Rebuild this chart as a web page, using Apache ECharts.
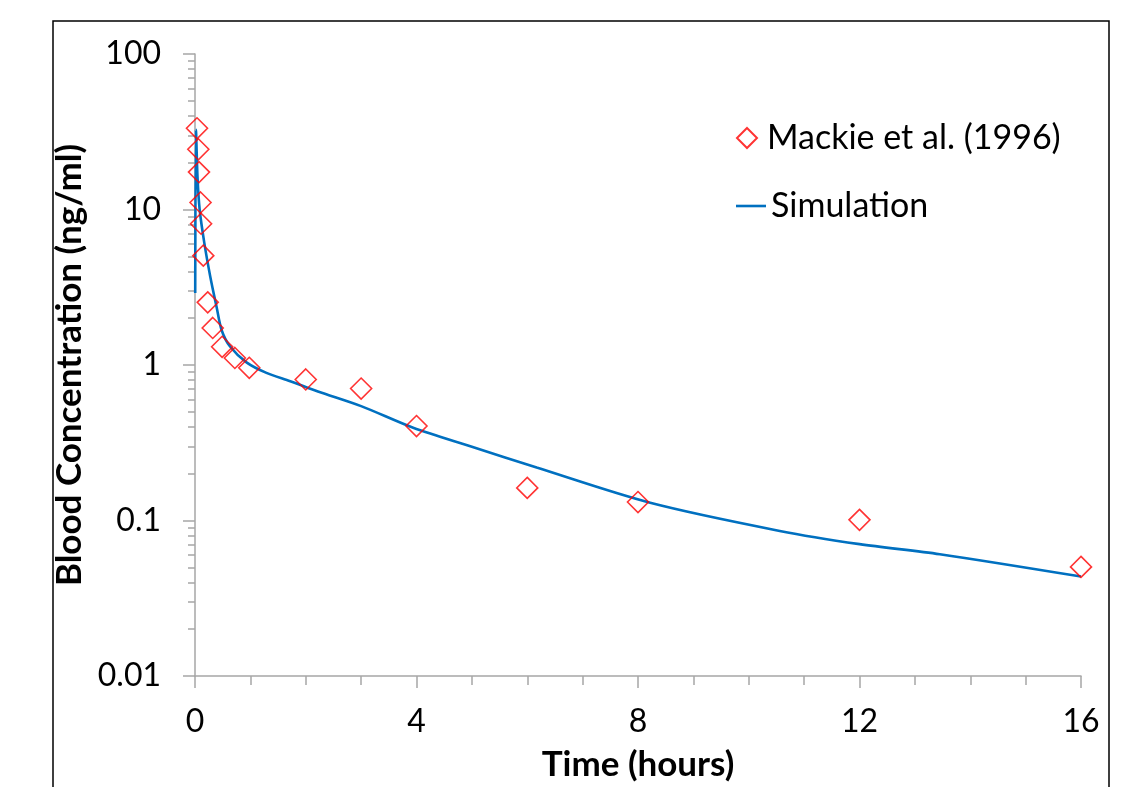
<!DOCTYPE html>
<html>
<head>
<meta charset="utf-8">
<script src="https://cdn.jsdelivr.net/npm/echarts@6/dist/echarts.min.js"></script>
<style>
  html, body { margin: 0; padding: 0; background: #fff; }
  #chart { width: 1140px; height: 787px; }
</style>
</head>
<body>
<div id="chart"></div>
<script>
// Measured blood concentrations (hours, ng/ml)
const obsTime = [0.036, 0.06, 0.072, 0.1, 0.11, 0.15, 0.23, 0.32, 0.49, 0.72, 0.98, 2, 3, 4, 6, 8, 12, 16];
const obsConc = [33.3, 24.4, 17.4, 11.1, 8.1, 5.05, 2.53, 1.73, 1.31, 1.11, 0.96, 0.807, 0.706, 0.405, 0.162, 0.1315, 0.101, 0.0503];

// Simulated concentration curve (hours, ng/ml)
const simTime = [0.004, 0.018, 0.045, 0.084, 0.168, 0.276, 0.39, 0.48, 0.63, 0.93, 1.29, 1.72, 2.22, 3.0, 3.94, 5.0, 6.17, 8.22, 10.56, 12.0, 13.45, 16.0];
const simConc = [2.9, 32.5, 16.2, 10.0, 6.1, 3.7, 2.36, 1.68, 1.32, 1.04, 0.89, 0.787, 0.676, 0.544, 0.395, 0.298, 0.219, 0.130, 0.0857, 0.0705, 0.0607, 0.0436];

// Axis tick values
const xTicks = [0, 4, 8, 12, 16];
const yMajor = [0.01, 0.1, 1, 10, 100];
const yMinor = [];
for (let d = 0; d < yMajor.length - 1; d++) {
  for (let m = 2; m <= 9; m++) yMinor.push(+(m * yMajor[d]).toPrecision(3));
}

const seriesNames = ['Mackie et al. (1996)', 'Simulation'];

const FONT = 'Lato';
const GRAY = '#a6a6a6';
const BLUE = '#0070c0';

const chart = echarts.init(document.getElementById('chart'), null, { renderer: 'canvas' });

chart.setOption({
  animation: false,
  backgroundColor: '#ffffff',
  textStyle: { fontFamily: FONT },
  grid: { left: 195, right: 59, top: 54, bottom: 110 },
  graphic: [{
    type: 'rect',
    shape: { x: 53, y: 21, width: 1056, height: 800 },
    style: { fill: 'none', stroke: '#000000', lineWidth: 1.5 },
    silent: true,
    z: 0
  }],
  legend: [
    {
      data: [seriesNames[0]],
      orient: 'vertical',
      left: 731, top: 115,
      itemWidth: 30, itemHeight: 20,
      icon: 'path://M10,0 L20,10 L10,20 L0,10 Z',
      textStyle: { fontFamily: FONT, fontSize: 34, color: '#000', lineHeight: 36 }
    },
    {
      data: [seriesNames[1]],
      orient: 'vertical',
      left: 731, top: 183,
      itemWidth: 30, itemHeight: 20,
      icon: 'path://M0,0 L30,0 L30,2.6 L0,2.6 Z',
      textStyle: { fontFamily: FONT, fontSize: 34, color: '#000', lineHeight: 36 }
    }
  ],
  xAxis: {
    type: 'value',
    min: xTicks[0], max: xTicks[xTicks.length - 1], interval: 4,
    name: 'Time (hours)',
    nameLocation: 'middle',
    nameGap: 71,
    nameTextStyle: { fontFamily: FONT, fontSize: 35, fontWeight: 'bold', color: '#000' },
    axisLine: { show: true, onZero: false, lineStyle: { color: GRAY, width: 1.5 } },
    axisTick: { show: true, length: 12, lineStyle: { color: GRAY, width: 1.5 } },
    minorTick: { show: true, splitNumber: 4, length: 9, lineStyle: { color: GRAY, width: 1.5 } },
    axisLabel: { fontFamily: FONT, fontSize: 32, color: '#000', margin: 30 },
    splitLine: { show: false }
  },
  yAxis: [
    {
      type: 'log', logBase: 10,
      min: yMajor[0], max: yMajor[yMajor.length - 1],
      name: 'Blood Concentration (ng/ml)',
      nameLocation: 'middle',
      nameGap: 96,
      nameTextStyle: { fontFamily: FONT, fontSize: 35, fontWeight: 'bold', color: '#000' },
      axisLine: { show: true, onZero: false, lineStyle: { color: GRAY, width: 1.5 } },
      axisTick: { show: true, length: 12, customValues: yMajor, lineStyle: { color: GRAY, width: 1.5 } },
      axisLabel: {
        fontFamily: FONT, fontSize: 32, color: '#000', margin: 34,
        customValues: yMajor,
        formatter: v => String(+v.toPrecision(3))
      },
      splitLine: { show: false }
    },
    {
      type: 'log', logBase: 10,
      min: yMajor[0], max: yMajor[yMajor.length - 1],
      position: 'left',
      axisLine: { show: false },
      axisTick: { show: true, length: 7, customValues: yMinor, lineStyle: { color: GRAY, width: 1.5 } },
      axisLabel: { show: false },
      splitLine: { show: false }
    }
  ],
  series: [
    {
      name: seriesNames[0],
      type: 'scatter',
      symbol: 'diamond',
      symbolSize: 21,
      itemStyle: { color: 'rgba(255,0,0,0)', borderColor: '#ff0000', borderWidth: 1.6 },
      data: obsTime.map((t, i) => [t, obsConc[i]]),
      z: 3
    },
    {
      name: seriesNames[1],
      type: 'line',
      showSymbol: false,
      symbol: 'none',
      smooth: 0.3,
      lineStyle: { color: BLUE, width: 2.6 },
      itemStyle: { color: BLUE },
      data: simTime.map((t, i) => [t, simConc[i]]),
      z: 2
    }
  ]
});
</script>
</body>
</html>
